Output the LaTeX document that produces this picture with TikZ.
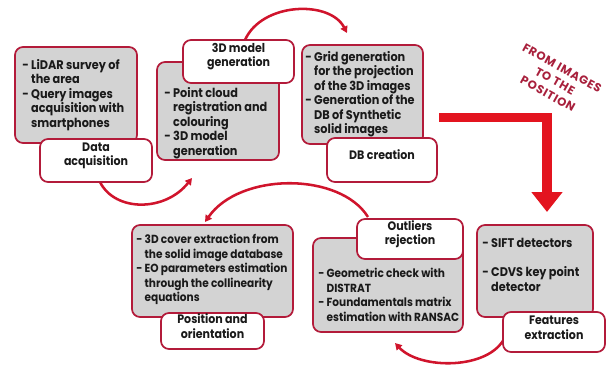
\documentclass[tikz,border=0pt]{standalone}
\usepackage{fontspec}
\setmainfont{Poppins}[FakeStretch=0.9]
\newfontfamily\rotfont{Poppins}
\usetikzlibrary{fit,arrows.meta}
\definecolor{bord}{HTML}{B31B3A}
\definecolor{grayf}{HTML}{D3D3D3}
\definecolor{arcred}{HTML}{D0142C}
\definecolor{bigred}{HTML}{E3141F}
\definecolor{txtred}{HTML}{A8203C}
\definecolor{ink}{HTML}{1A1A1A}
\tikzset{
  gbox/.style={draw=bord, line width=1.3pt, fill=grayf, rounded corners=6pt, inner sep=0pt},
  lbox/.style={draw=bord, line width=1.3pt, fill=white, rounded corners=6pt, inner sep=0pt, align=center,
     font=\fontsize{9.2}{10.6}\selectfont\bfseries, text=ink},
  btxt/.style={inner sep=0pt, align=left, anchor=north west, text=ink,
     font=\fontsize{9.4}{10.9}\selectfont\bfseries},
  btxtb/.style={btxt, font=\fontsize{8.8}{10.9}\selectfont\bfseries},
  arcarrow/.style={draw=arcred, line width=1.9pt, -{Triangle[length=5pt,width=5.5pt]}},
  bigarrow/.style={draw=bigred, line width=7.2pt, -{Triangle[length=15pt,width=22.5pt]}},
}
\newcommand{\hang}{\hphantom{- }}
\begin{document}
\begin{tikzpicture}[x=0.75pt,y=-0.75pt]
\useasboundingbox (0,0) rectangle (608,365);
% arc connectors (behind)
\coordinate (a1s) at (100,182); \coordinate (a1e) at (192,178);
\coordinate (a2s) at (245,40);  \coordinate (a2e) at (347,33);
\coordinate (a3s) at (368,217); \coordinate (a3e) at (205,222);
\coordinate (a4s) at (505,337); \coordinate (a4e) at (395,343);
\draw[arcarrow] (a1s) .. controls (115,212) and (165,212) .. (a1e);
\draw[arcarrow] (a2s) .. controls (262,2) and (330,0) .. (a2e);
\draw[arcarrow] (a3s) .. controls (340,172) and (240,172) .. (a3e);
\draw[arcarrow] (a4s) .. controls (490,370) and (420,370) .. (a4e);
% gray boxes
\node[gbox, fit={(15,47) (137,143)}] (g1) {};
\node[gbox, fit={(157,62) (279,160)}] (g2) {};
\node[gbox, fit={(302,45) (423,144)}] (g3) {};
\node[gbox, fit={(132,225) (293,317)}] (g4) {};
\node[gbox, fit={(313,238) (463,332)}] (g5) {};
\node[gbox, fit={(477,225) (593,317)}] (g6) {};
% box texts
\node[btxt] (t1) at (22,59) {- LiDAR survey of\\\hang the area\\- Query images\\\hang acquisition with\\\hang smartphones};
\node[btxt] (t2) at (164,87) {- Point cloud\\\hang registration and\\\hang colouring\\- 3D model\\\hang generation};
\node[btxt] (t3) at (305,51) {- Grid generation\\\hang for the projection\\\hang of the 3D images\\- Generation of the\\\hang DB of Synthetic\\\hang solid images};
\node[btxtb] (t4) at (136,234) {- 3D cover extraction from\\\hang the solid image database\\- EO parameters estimation\\\hang through the collinearity\\\hang equations};
\node[btxtb] (t5) at (318,268) {- Geometric check with\\\hang DISTRAT\\- Foundamentals matrix\\\hang estimation with RANSAC};
\node[btxt] (t6) at (482,238) {- SIFT detectors\\[10.9pt]- CDVS key point\\\hang detector};
% labels
\node[lbox, fit={(40,139) (152,182)}] (l1) {Data\\acquisition};
\node[lbox, fit={(183,40) (294,83)}] (l2) {3D model\\generation};
\node[lbox, fit={(327,138) (437,182)}] (l3) {DB creation};
\node[lbox, fit={(161,313) (264,349)}] (l4) {Position and\\orientation};
\node[lbox, fit={(357,219) (463,259)}] (l5) {Outliers\\rejection};
\node[lbox, fit={(503,312) (605,352)}] (l6) {Features\\extraction};
% big arrow
\coordinate (ba) at (439,117.5); \coordinate (bb) at (547,212);
\draw[bigarrow] (ba) -| (bb);
\node[rotate=-29, align=center, text=txtred, font=\rotfont\fontsize{8.8}{11}\selectfont\bfseries\addfontfeature{LetterSpace=6}] (ft) at (555,81) {FROM IMAGES\\TO THE\\POSITION};
\end{tikzpicture}
\end{document}
